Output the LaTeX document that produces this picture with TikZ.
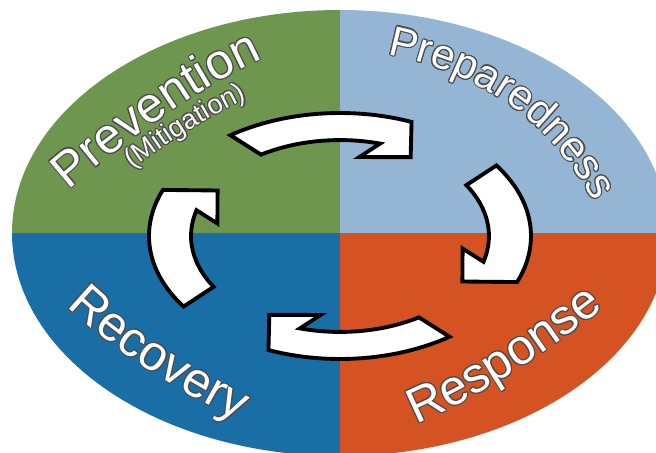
\documentclass[tikz,border=0pt]{standalone}
\usepackage{fontspec}
\setmainfont{Liberation Sans}
\usepackage[copies]{contour}
\contourlength{0.6pt}
\usetikzlibrary{decorations.text}

\definecolor{prevgreen}{HTML}{6F964F}
\definecolor{prepblue}{HTML}{94B6D4}
\definecolor{resporange}{HTML}{D55322}
\definecolor{recblue}{HTML}{1A6EA6}

\newcommand\rimchar[1]{\contour{black!70}{#1}}

\begin{document}
\begin{tikzpicture}[
  cyclearrow/.style={draw=black,fill=white,line width=2.2pt,line join=miter},
  rim/.style={decorate,decoration={text effects along path,text align=center,
    text effects/.cd,text along path,character command=\rimchar,
    characters={text=white,font=\fontsize{#1}{#1}\selectfont}}}]
\useasboundingbox (-6.8,-4.4) rectangle (6.32,4.66);
\clip (-6.8,-4.4) rectangle (6.32,4.66);

% the four phases
\begin{scope}
  \clip (0,0) ellipse [x radius=6.56,y radius=4.46];
  \fill[prevgreen] (-7,0) rectangle (0,5);
  \fill[prepblue] (0,0) rectangle (7,5);
  \fill[resporange] (0,-5) rectangle (7,0);
  \fill[recblue] (-7,-5) rectangle (0,0);
\end{scope}

% cycle arrows, drawn on a unit circle and stretched
\begin{scope}[shift={(0,-0.06)},xscale=3.82,yscale=2.46]
  \foreach \turn in {0,-90,-180,-270}
    \draw[cyclearrow,rotate=\turn] (125:1) arc[start angle=125,end angle=68,radius=1]
      -- (60:0.74) -- (81:0.65) -- (74.4:0.78) arc[start angle=74.4,end angle=122,radius=0.78] -- cycle;
\end{scope}

% labels along the rim
\path[rim=28,decoration={text={Prevention}}] (-5.86,0.5) -- (-5.4,0.88)
  .. controls (-4.0,2.08) and (-2.74,2.94) .. (-1.58,3.47) -- (-1.03,3.72);
\path[rim=15.5,decoration={text={(Mitigation)}}] (-4.6,0.97) -- (-4.16,1.28)
  .. controls (-3.36,1.87) and (-2.59,2.35) .. (-1.84,2.7) -- (-1.36,2.93);
\path[rim=24,decoration={text={Preparedness}}] (0.45,3.71) -- (1.02,3.56)
  .. controls (2.85,3.18) and (4.19,2.23) .. (5.04,0.7) -- (5.33,0.18);
\path[rim=28,decoration={text={Response}}] (1.02,-4.19) -- (1.56,-3.8)
  .. controls (2.69,-3.32) and (3.93,-2.55) .. (5.3,-1.48) -- (5.77,-1.11);
\path[rim=28,decoration={text={Recovery}}] (-5.72,-0.98) -- (-5.44,-1.48)
  .. controls (-4.67,-2.22) and (-3.55,-2.97) .. (-2.08,-3.74) -- (-1.55,-4.02);
\end{tikzpicture}
\end{document}
